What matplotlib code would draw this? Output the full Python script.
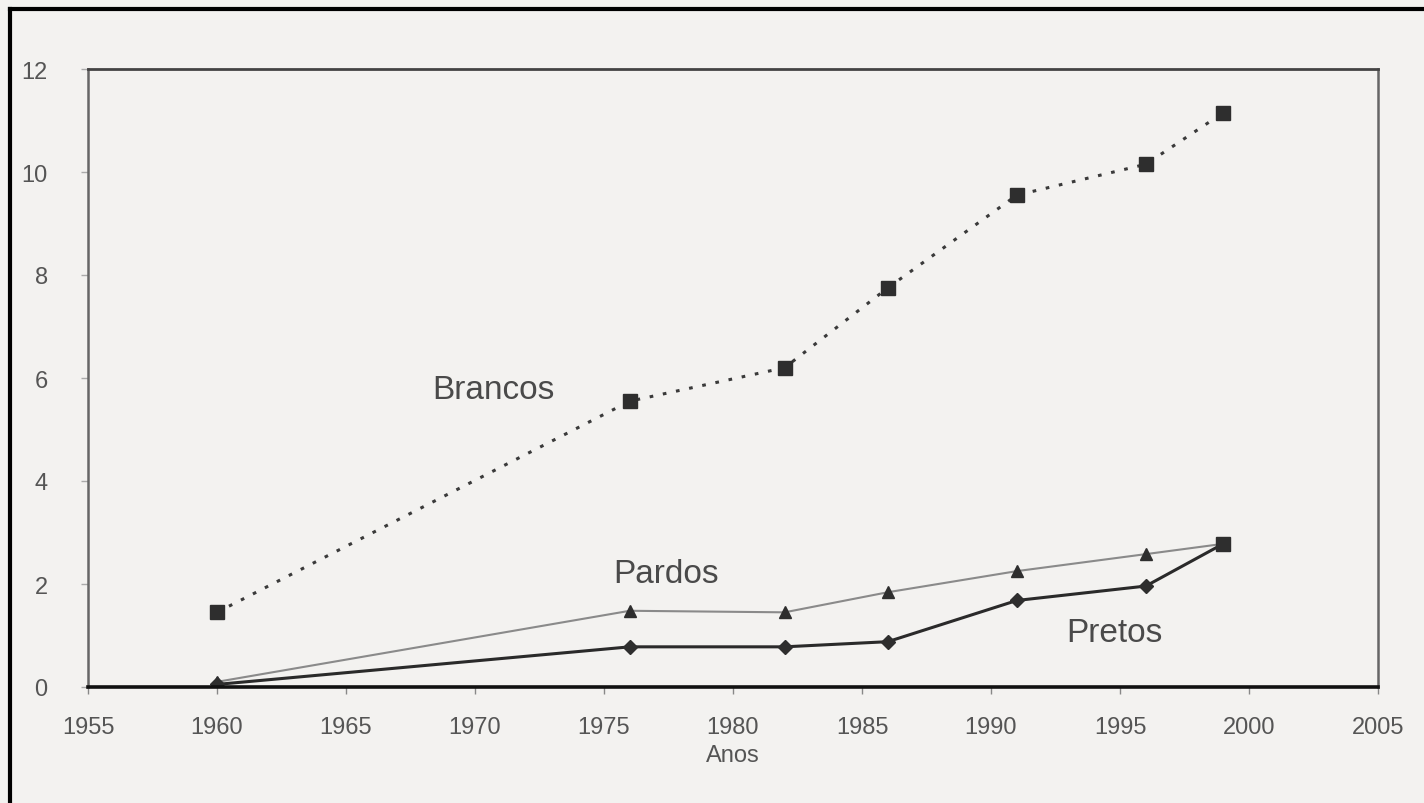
import matplotlib
matplotlib.use("Agg")
import matplotlib.pyplot as plt
from matplotlib.lines import Line2D

years = [1960, 1976, 1982, 1986, 1991, 1996, 1999]
brancos = [1.45, 5.55, 6.2, 7.75, 9.55, 10.15, 11.15]
pardos = [0.1, 1.48, 1.45, 1.84, 2.25, 2.58, 2.78]
pretos = [0.05, 0.78, 0.78, 0.88, 1.68, 1.96, 2.78]
xticks = [1955, 1960, 1965, 1970, 1975, 1980, 1985, 1990, 1995, 2000, 2005]
yticks = [0, 2, 4, 6, 8, 10, 12]

plt.rcParams['font.family'] = ['Liberation Sans', 'DejaVu Sans']
bg = '#f3f2f0'
txt = '#555555'

fig = plt.figure(figsize=(14.24, 8.04), dpi=100, facecolor=bg)
W, H = 1424, 804
ax = fig.add_axes([88 / W, 1 - 688 / H, (1378 - 88) / W, (688 - 70) / H])
ax.set_facecolor(bg)

ax.plot(years, brancos, color='#3a3a3a', linestyle=(0, (1.2, 3.2)), linewidth=2.2,
        marker='s', markersize=10, markerfacecolor='#2e2e2e', markeredgecolor='#2e2e2e')
ax.plot(years, pardos, color='#8a8a8a', linestyle='-', linewidth=1.5,
        marker='^', markersize=9, markerfacecolor='#2e2e2e', markeredgecolor='#2e2e2e')
ax.plot(years, pretos, color='#2a2a2a', linestyle='-', linewidth=2.2,
        marker='D', markersize=7, markerfacecolor='#2e2e2e', markeredgecolor='#2e2e2e')
ax.plot(years[-1:], pretos[-1:], linestyle='none', marker='s', markersize=10,
        markerfacecolor='#2e2e2e', markeredgecolor='#2e2e2e')

ax.set_xlim(1955, 2005)
ax.set_ylim(0, 12)
ax.set_xticks(xticks)
ax.set_yticks(yticks)
ax.tick_params(axis='x', direction='out', length=5, width=1, color='#888888',
               labelsize=17, labelcolor=txt, pad=16)
ax.tick_params(axis='y', direction='out', length=5, width=1, color='#aaaaaa',
               labelsize=17, labelcolor=txt, pad=24)

for side in ['left', 'right']:
    ax.spines[side].set_color('#666666')
    ax.spines[side].set_linewidth(1.8)
ax.spines['top'].set_color('#444444')
ax.spines['top'].set_linewidth(2.0)
ax.spines['bottom'].set_color('#111111')
ax.spines['bottom'].set_linewidth(2.6)

ax.set_xlabel('Anos', fontsize=17, color=txt, labelpad=4)

ax.text(1970.7, 5.78, 'Brancos', fontsize=24, color='#4a4a4a', ha='center', va='center')
ax.text(1977.4, 2.2, 'Pardos', fontsize=24, color='#4a4a4a', ha='center', va='center')
ax.text(1994.8, 1.05, 'Pretos', fontsize=24, color='#4a4a4a', ha='center', va='center')

# scanned page frame (left and top edges)
fig.add_artist(Line2D([10 / W, 10 / W], [0, 1 - 10 / H], transform=fig.transFigure,
                      color='black', linewidth=3))
fig.add_artist(Line2D([10 / W, 1], [1 - 10 / H, 1 - 10 / H], transform=fig.transFigure,
                      color='black', linewidth=3))

fig.savefig('out.png', dpi=100, facecolor=bg)
